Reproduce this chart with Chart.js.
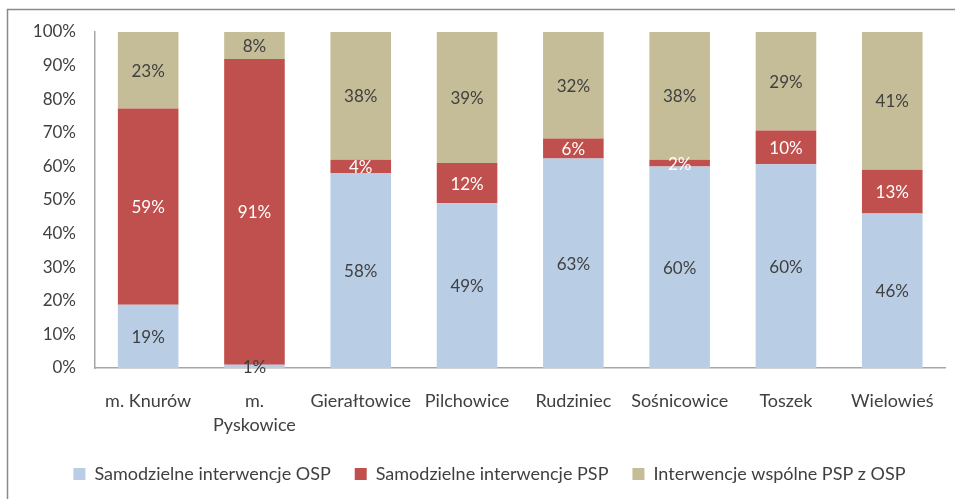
<!DOCTYPE html>
<html>
<head>
<meta charset="utf-8">
<script src="https://cdn.jsdelivr.net/npm/chart.js@4/dist/chart.umd.min.js"></script>
<style>
    html, body { margin: 0; padding: 0; background: #fff; }
    #wrap { width: 955px; height: 499px; position: relative; }
</style>
</head>
<body>
<div id="wrap"><canvas id="graphCanvas" width="955" height="499"></canvas></div>
<script>
var gminy = ["m. Knurów", ["m.", "Pyskowice"], "Gierałtowice", "Pilchowice", "Rudziniec", "Sośnicowice", "Toszek", "Wielowieś"];
var osp = [19, 1, 58, 49, 63, 60, 60, 46];
var psp = [59, 91, 4, 12, 6, 2, 10, 13];
var wspolne = [23, 8, 38, 39, 32, 38, 29, 41];
var yTicks = [0, 10, 20, 30, 40, 50, 60, 70, 80, 90, 100];

var fontName = "Lato";
var textColor = "#404040";

// 100% stacked: each column scaled to its own total
function udzial(arr) {
    return arr.map(function (v, i) {
        var suma = osp[i] + psp[i] + wspolne[i];
        return v / suma * 100;
    });
}

// frame around the whole chart
var ramka = {
    id: "ramka",
    beforeDraw: function (chart) {
        var c = chart.ctx;
        c.save();
        c.strokeStyle = "#8a8a8a";
        c.lineWidth = 1.5;
        c.strokeRect(7.5, 9.5, 1000, 600);
        c.restore();
    }
};

// percentage labels in the middle of each segment
var etykiety = {
    id: "etykiety",
    afterDatasetsDraw: function (chart) {
        var c = chart.ctx;
        c.save();
        c.font = "17px " + fontName;
        c.textAlign = "center";
        c.textBaseline = "middle";
        chart.data.datasets.forEach(function (ds, i) {
            var meta = chart.getDatasetMeta(i);
            c.fillStyle = ds.labelColor;
            meta.data.forEach(function (bar, j) {
                var y = (bar.y + bar.base) / 2;
                c.fillText(ds.values[j] + "%", bar.x, y + 1);
            });
        });
        c.restore();
    }
};

var data = {
    labels: gminy,
    datasets: [
        {
            label: "Samodzielne interwencje OSP",
            data: udzial(osp),
            values: osp,
            backgroundColor: "#B9CDE5",
            labelColor: textColor
        },
        {
            label: "Samodzielne interwencje PSP",
            data: udzial(psp),
            values: psp,
            backgroundColor: "#C0504D",
            labelColor: "#ffffff"
        },
        {
            label: "Interwencje wspólne PSP z OSP",
            data: udzial(wspolne),
            values: wspolne,
            backgroundColor: "#C4BD97",
            labelColor: textColor
        }
    ]
};

var options = {
    responsive: false,
    animation: false,
    layout: { padding: { top: 32, right: 8, bottom: 6, left: 32 } },
    datasets: {
        bar: { barPercentage: 0.57, categoryPercentage: 1.0 }
    },
    scales: {
        x: {
            stacked: true,
            grid: { display: false, drawTicks: false },
            border: { color: "#a6a6a6", width: 1.5 },
            ticks: {
                color: textColor,
                font: { family: fontName, size: 18, lineHeight: 1.35 },
                padding: 21,
                maxRotation: 0,
                autoSkip: false
            },
            afterFit: function (scale) { scale.height = 73; }
        },
        y: {
            stacked: true,
            min: 0,
            max: 100,
            afterBuildTicks: function (scale) {
                scale.ticks = yTicks.map(function (v) { return { value: v }; });
            },
            grid: { display: false, drawTicks: false },
            border: { color: "#a6a6a6", width: 1.5 },
            ticks: {
                color: textColor,
                font: { family: fontName, size: 17 },
                padding: 19,
                callback: function (v) { return v + "%"; }
            },
            afterFit: function (scale) { scale.width = 63; }
        }
    },
    plugins: {
        legend: {
            position: "bottom",
            labels: {
                color: textColor,
                font: { family: fontName, size: 18 },
                boxWidth: 12,
                boxHeight: 12,
                padding: 24
            }
        },
        tooltip: { enabled: false }
    }
};

var chart1 = new Chart(document.getElementById("graphCanvas"), {
    type: "bar",
    data: data,
    options: options,
    plugins: [ramka, etykiety]
});
</script>
</body>
</html>
